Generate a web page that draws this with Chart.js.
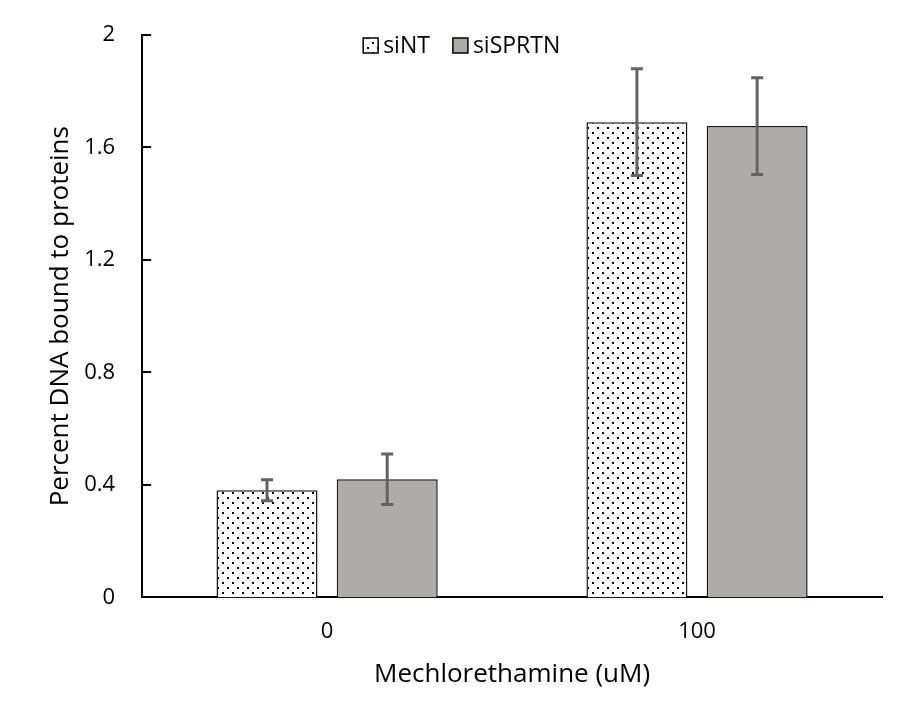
<!DOCTYPE html>
<html>
<head>
<meta charset="utf-8">
<script src="https://cdn.jsdelivr.net/npm/chart.js@4.4.1/dist/chart.umd.min.js"></script>
<style>
  body { margin: 0; background: #fff; }
  #wrap { width: 900px; height: 718px; }
</style>
</head>
<body>
<div id="wrap"><canvas id="myChart"></canvas></div>
<script>
const categories = ["0", "100"];
const siNT = [0.381, 1.690];
const siNTErr = [0.037, 0.190];
const siSPRTN = [0.420, 1.676];
const siSPRTNErr = [0.090, 0.172];
const yTicks = [0, 0.4, 0.8, 1.2, 1.6, 2];

const fontFamily = "'Open Sans', Lato, sans-serif";

// dotted fill like Excel's 5% pattern
function makeDots() {
  const c = document.createElement("canvas");
  c.width = 10;
  c.height = 10;
  const g = c.getContext("2d");
  g.fillStyle = "#fff";
  g.fillRect(0, 0, 10, 10);
  g.fillStyle = "#000";
  g.fillRect(2, 2, 2, 2);
  g.fillRect(7, 7, 2, 2);
  return g.createPattern(c, "repeat");
}
const dots = makeDots();
const grey = "#AFABAB";

const errorBars = {
  id: "errorBars",
  afterDatasetsDraw(chart) {
    const ctx = chart.ctx;
    const y = chart.scales.y;
    const errs = [siNTErr, siSPRTNErr];
    ctx.save();
    ctx.strokeStyle = "#636363";
    ctx.lineWidth = 3;
    chart.data.datasets.forEach((ds, i) => {
      const meta = chart.getDatasetMeta(i);
      meta.data.forEach((bar, j) => {
        const v = ds.data[j];
        const e = errs[i][j];
        const top = y.getPixelForValue(v + e);
        const bot = y.getPixelForValue(v - e);
        ctx.beginPath();
        ctx.moveTo(bar.x, top);
        ctx.lineTo(bar.x, bot);
        ctx.moveTo(bar.x - 6, top);
        ctx.lineTo(bar.x + 6, top);
        ctx.moveTo(bar.x - 6, bot);
        ctx.lineTo(bar.x + 6, bot);
        ctx.stroke();
      });
    });
    ctx.restore();
  }
};

// y ticks point into the plot in the original
const innerTicks = {
  id: "innerTicks",
  afterDraw(chart) {
    const ctx = chart.ctx;
    const y = chart.scales.y;
    const left = chart.chartArea.left;
    ctx.save();
    ctx.strokeStyle = "#000";
    ctx.lineWidth = 2;
    yTicks.forEach((v) => {
      const py = Math.round(y.getPixelForValue(v));
      ctx.beginPath();
      ctx.moveTo(left, py);
      ctx.lineTo(left + 9, py);
      ctx.stroke();
    });
    ctx.restore();
  }
};

// legend sits inside the plot, near the top
const innerLegend = {
  id: "innerLegend",
  afterDraw(chart) {
    const ctx = chart.ctx;
    const area = chart.chartArea;
    let x = area.left + 221;
    const yMid = area.top + 10;
    ctx.save();
    ctx.font = "23px " + fontFamily;
    ctx.textBaseline = "middle";
    chart.data.datasets.forEach((ds) => {
      ctx.fillStyle = ds.backgroundColor;
      ctx.fillRect(x, yMid - 7, 15, 15);
      ctx.strokeStyle = "#000";
      ctx.lineWidth = 1.5;
      ctx.strokeRect(x, yMid - 7, 15, 15);
      ctx.fillStyle = "#000";
      ctx.fillText(ds.label, x + 20, yMid + 1);
      x += 20 + ctx.measureText(ds.label).width + 23;
    });
    ctx.restore();
  }
};

new Chart(document.getElementById("myChart"), {
  type: "bar",
  data: {
    labels: categories,
    datasets: [
      {
        label: "siNT",
        data: siNT,
        backgroundColor: dots,
        borderColor: "#1a1a1a",
        borderWidth: 1.5,
        categoryPercentage: 0.65,
        barPercentage: 0.84
      },
      {
        label: "siSPRTN",
        data: siSPRTN,
        backgroundColor: grey,
        borderColor: "#1a1a1a",
        borderWidth: 1.5,
        categoryPercentage: 0.65,
        barPercentage: 0.84
      }
    ]
  },
  options: {
    responsive: true,
    maintainAspectRatio: false,
    animation: false,
    layout: { padding: { left: 41, right: 18, top: 35, bottom: 24 } },
    plugins: {
      legend: { display: false },
      tooltip: { enabled: false }
    },
    scales: {
      x: {
        grid: { display: false, drawTicks: false },
        border: { display: true, color: "#000", width: 2 },
        ticks: { color: "#000", font: { family: fontFamily, size: 22 }, padding: 21 },
        title: {
          display: true,
          text: "Mechlorethamine (uM)",
          color: "#000",
          font: { family: fontFamily, size: 26 },
          padding: { top: -7, bottom: 4 }
        }
      },
      y: {
        min: 0,
        max: 2,
        afterBuildTicks(axis) {
          axis.ticks = yTicks.map(v => ({ value: v }));
        },
        afterFit(axis) {
          // the wide tick padding should not push the plot top down
          axis.paddingTop = 13;
        },
        grid: { display: false, drawTicks: false },
        border: { display: true, color: "#000", width: 2 },
        ticks: {
          color: "#000",
          font: { family: fontFamily, size: 22 },
          padding: 27,
          callback: (v) => String(v)
        },
        title: {
          display: true,
          text: "Percent DNA bound to proteins",
          color: "#000",
          font: { family: fontFamily, size: 26 },
          padding: { top: 4, bottom: -19 }
        }
      }
    }
  },
  plugins: [errorBars, innerTicks, innerLegend]
});
</script>
</body>
</html>
